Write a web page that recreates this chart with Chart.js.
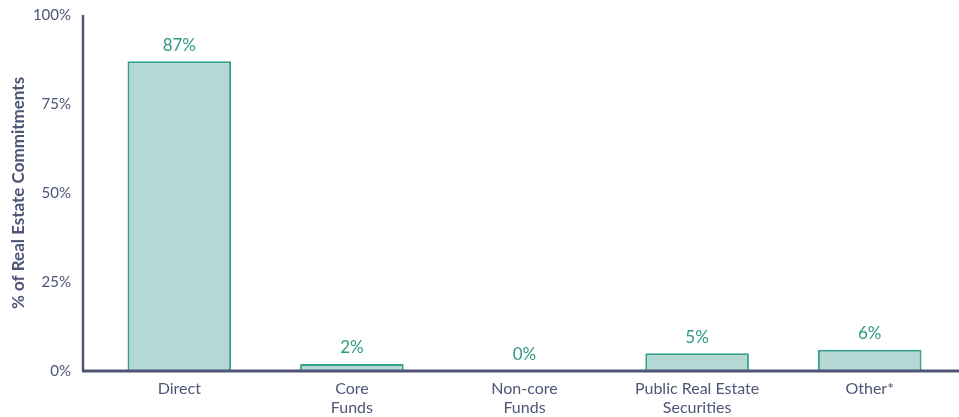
<!DOCTYPE html>
<html>
<head>
<meta charset="utf-8">
<script src="https://cdn.jsdelivr.net/npm/chart.js@4.4.1/dist/chart.umd.min.js"></script>
<style>
  html, body { margin: 0; padding: 0; background: #ffffff; }
  #wrap { width: 959px; height: 417px; position: relative; }
</style>
</head>
<body>
<div id="wrap"><canvas id="c"></canvas></div>
<script>
// Real estate commitment mix by vehicle type
const categories = [['Direct'], ['Core', 'Funds'], ['Non-core', 'Funds'], ['Public Real Estate', 'Securities'], ['Other*']];
const shares = [87, 2, 0, 5, 6];
const yTicks = [0, 25, 50, 75, 100];

const SLATE = '#4e5577';
const TEAL_TEXT = '#2e9a82';
const BAR_FILL = '#b4d9d5';
const BAR_EDGE = '#34a08a';
const FONT = 'Lato, "Open Sans", sans-serif';

// Value labels above each bar
const valueLabels = {
  id: 'valueLabels',
  afterDatasetsDraw(chart) {
    const ctx = chart.ctx;
    const meta = chart.getDatasetMeta(0);
    const y = chart.scales.y;
    ctx.save();
    ctx.font = '17px ' + FONT;
    ctx.fillStyle = TEAL_TEXT;
    ctx.textAlign = 'center';
    ctx.textBaseline = 'middle';
    meta.data.forEach((bar, i) => {
      ctx.fillText(shares[i] + '%', bar.x, y.getPixelForValue(shares[i]) - 16);
    });
    ctx.restore();
  }
};

// Axis lines: vertical axis sits a little left of the first category band,
// horizontal baseline runs to the right edge
const axisLines = {
  id: 'axisLines',
  afterDraw(chart) {
    const ctx = chart.ctx;
    const y = chart.scales.y;
    const x0 = chart.chartArea.left - 10;
    const top = y.getPixelForValue(100);
    const base = y.getPixelForValue(0);
    ctx.save();
    ctx.strokeStyle = SLATE;
    ctx.lineWidth = 2.5;
    ctx.beginPath();
    ctx.moveTo(x0, top);
    ctx.lineTo(x0, base);
    ctx.stroke();
    ctx.lineWidth = 3;
    ctx.beginPath();
    ctx.moveTo(x0 - 1, base);
    ctx.lineTo(chart.width, base);
    ctx.stroke();
    ctx.restore();
  }
};

new Chart(document.getElementById('c'), {
  type: 'bar',
  data: {
    labels: categories,
    datasets: [{
      data: shares,
      backgroundColor: BAR_FILL,
      borderColor: BAR_EDGE,
      borderWidth: { top: 2, left: 2, right: 2, bottom: 0 },
      borderSkipped: 'bottom',
      barPercentage: 0.6,
      categoryPercentage: 1.0
    }]
  },
  options: {
    responsive: true,
    maintainAspectRatio: false,
    animation: false,
    layout: { padding: { top: 15, right: 3, left: 0, bottom: 0 } },
    plugins: {
      legend: { display: false },
      tooltip: { enabled: false }
    },
    scales: {
      x: {
        grid: { display: false, drawTicks: false },
        border: { display: false },
        ticks: {
          color: SLATE,
          font: { family: FONT, size: 16, lineHeight: 1.2 },
          padding: 8,
          maxRotation: 0,
          autoSkip: false
        },
        afterFit(s) {
          s.height = 46;
          s.paddingLeft = 0;
          s.paddingRight = 0;
        }
      },
      y: {
        min: 0,
        max: 100,
        afterBuildTicks(s) { s.ticks = yTicks.map(v => ({ value: v })); },
        grid: { display: false, drawTicks: false },
        border: { display: false },
        ticks: {
          color: SLATE,
          font: { family: FONT, size: 15 },
          padding: 22,
          callback: v => v + '%'
        },
        title: {
          display: true,
          text: '% of Real Estate Commitments',
          color: SLATE,
          font: { family: FONT, size: 17, weight: 'bold' },
          padding: { top: 8, bottom: 4 }
        },
        afterFit(s) {
          s.width = 93;
          s.paddingTop = 0;
          s.paddingBottom = 0;
        }
      }
    }
  },
  plugins: [valueLabels, axisLines]
});
</script>
</body>
</html>
